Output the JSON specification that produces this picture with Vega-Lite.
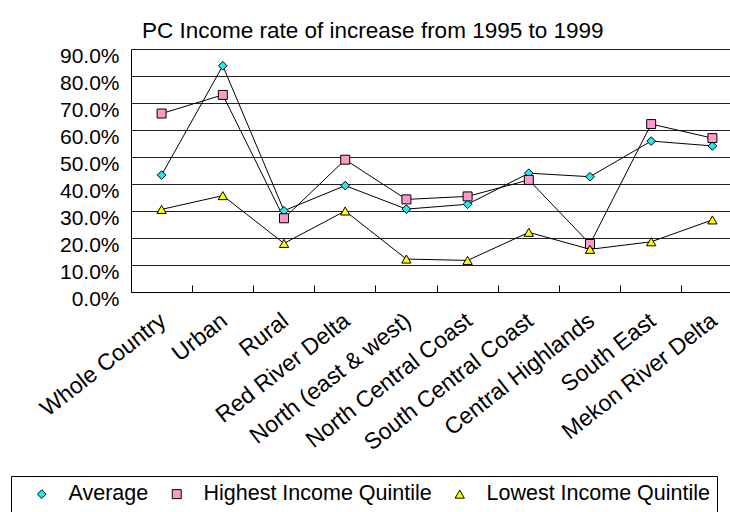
{
  "$schema": "https://vega.github.io/schema/vega-lite/v6.json",
  "width": 599,
  "height": 243,
  "autosize": {"type": "none"},
  "padding": {"left": 131, "top": 49, "right": 0, "bottom": 220},
  "background": "white",
  "title": {
    "text": "PC Income rate of increase from 1995 to 1999",
    "anchor": "start",
    "frame": "group",
    "dx": 11,
    "offset": -15,
    "baseline": "alphabetic",
    "font": "Liberation Sans",
    "fontSize": 22.5,
    "fontWeight": "normal",
    "color": "black"
  },
  "config": {
    "view": {"stroke": null},
    "font": "Liberation Sans"
  },
  "data": {
    "values": [
      {"region": "Whole Country", "series": "Average", "value": 0.433},
      {"region": "Urban", "series": "Average", "value": 0.838},
      {"region": "Rural", "series": "Average", "value": 0.301},
      {"region": "Red River Delta", "series": "Average", "value": 0.394},
      {"region": "North (east & west)", "series": "Average", "value": 0.307},
      {"region": "North Central Coast", "series": "Average", "value": 0.325},
      {"region": "South Central Coast", "series": "Average", "value": 0.44},
      {"region": "Central Highlands", "series": "Average", "value": 0.427},
      {"region": "South East", "series": "Average", "value": 0.559},
      {"region": "Mekon River Delta", "series": "Average", "value": 0.541},
      {"region": "Whole Country", "series": "Highest Income Quintile", "value": 0.661},
      {"region": "Urban", "series": "Highest Income Quintile", "value": 0.73},
      {"region": "Rural", "series": "Highest Income Quintile", "value": 0.273},
      {"region": "Red River Delta", "series": "Highest Income Quintile", "value": 0.49},
      {"region": "North (east & west)", "series": "Highest Income Quintile", "value": 0.343},
      {"region": "North Central Coast", "series": "Highest Income Quintile", "value": 0.354},
      {"region": "South Central Coast", "series": "Highest Income Quintile", "value": 0.415},
      {"region": "Central Highlands", "series": "Highest Income Quintile", "value": 0.178},
      {"region": "South East", "series": "Highest Income Quintile", "value": 0.622},
      {"region": "Mekon River Delta", "series": "Highest Income Quintile", "value": 0.57},
      {"region": "Whole Country", "series": "Lowest Income Quintile", "value": 0.306},
      {"region": "Urban", "series": "Lowest Income Quintile", "value": 0.357},
      {"region": "Rural", "series": "Lowest Income Quintile", "value": 0.18},
      {"region": "Red River Delta", "series": "Lowest Income Quintile", "value": 0.30},
      {"region": "North (east & west)", "series": "Lowest Income Quintile", "value": 0.122},
      {"region": "North Central Coast", "series": "Lowest Income Quintile", "value": 0.117},
      {"region": "South Central Coast", "series": "Lowest Income Quintile", "value": 0.221},
      {"region": "Central Highlands", "series": "Lowest Income Quintile", "value": 0.158},
      {"region": "South East", "series": "Lowest Income Quintile", "value": 0.186},
      {"region": "Mekon River Delta", "series": "Lowest Income Quintile", "value": 0.267}
    ]
  },
  "encoding": {
    "x": {
      "field": "region",
      "type": "nominal",
      "sort": null,
      "scale": {"type": "band", "range": [0, 612], "paddingInner": 0, "paddingOuter": 0},
      "axis": {
        "title": null,
        "bandPosition": 0,
        "labelOffset": -5,
        "labelAngle": -38,
        "labelAlign": "right",
        "labelBaseline": "top",
        "labelPadding": 24,
        "labelFont": "Liberation Sans",
        "labelFontSize": 23,
        "labelColor": "black",
        "labelLimit": 400,
        "tickSize": -7,
        "tickColor": "black",
        "tickWidth": 1,
        "domainColor": "black",
        "domainWidth": 1,
        "grid": false
      }
    },
    "y": {
      "field": "value",
      "type": "quantitative",
      "scale": {"domain": [0, 0.9], "nice": false},
      "axis": {
        "title": null,
        "format": ".1%",
        "values": [0, 0.1, 0.2, 0.3, 0.4, 0.5, 0.6, 0.7, 0.8, 0.9],
        "ticks": false,
        "labelPadding": 12,
        "labelOffset": 7,
        "labelFont": "Liberation Sans",
        "labelFontSize": 21,
        "labelColor": "black",
        "domainColor": "black",
        "domainWidth": 1,
        "grid": true,
        "gridColor": "#222222",
        "gridWidth": 1
      }
    }
  },
  "layer": [
    {
      "mark": {"type": "line", "stroke": "black", "strokeWidth": 1},
      "encoding": {"detail": {"field": "series", "type": "nominal"}}
    },
    {
      "mark": {"type": "point", "filled": true, "opacity": 1, "stroke": "black", "strokeWidth": 1},
      "encoding": {
        "fill": {
          "field": "series",
          "type": "nominal",
          "scale": {
            "domain": ["Average", "Highest Income Quintile", "Lowest Income Quintile"],
            "range": ["#1EEAF2", "#FF99CC", "#FFFF00"]
          },
          "legend": {
            "title": null,
            "orient": "none",
            "direction": "horizontal",
            "legendX": -120,
            "legendY": 427,
            "padding": 7,
            "strokeColor": "black",
            "fillColor": "white",
            "cornerRadius": 0,
            "symbolStrokeColor": "black",
            "symbolStrokeWidth": 1,
            "symbolOpacity": 1,
            "symbolOffset": 13,
            "labelOffset": 16,
            "columnPadding": 4,
            "labelFont": "Liberation Sans",
            "labelFontSize": 21.5,
            "labelColor": "black",
            "labelLimit": 400
          }
        },
        "shape": {
          "field": "series",
          "type": "nominal",
          "scale": {
            "domain": ["Average", "Highest Income Quintile", "Lowest Income Quintile"],
            "range": ["diamond", "square", "triangle-up"]
          }
        },
        "size": {
          "field": "series",
          "type": "nominal",
          "scale": {
            "domain": ["Average", "Highest Income Quintile", "Lowest Income Quintile"],
            "range": [75, 86, 110]
          }
        }
      }
    }
  ]
}
